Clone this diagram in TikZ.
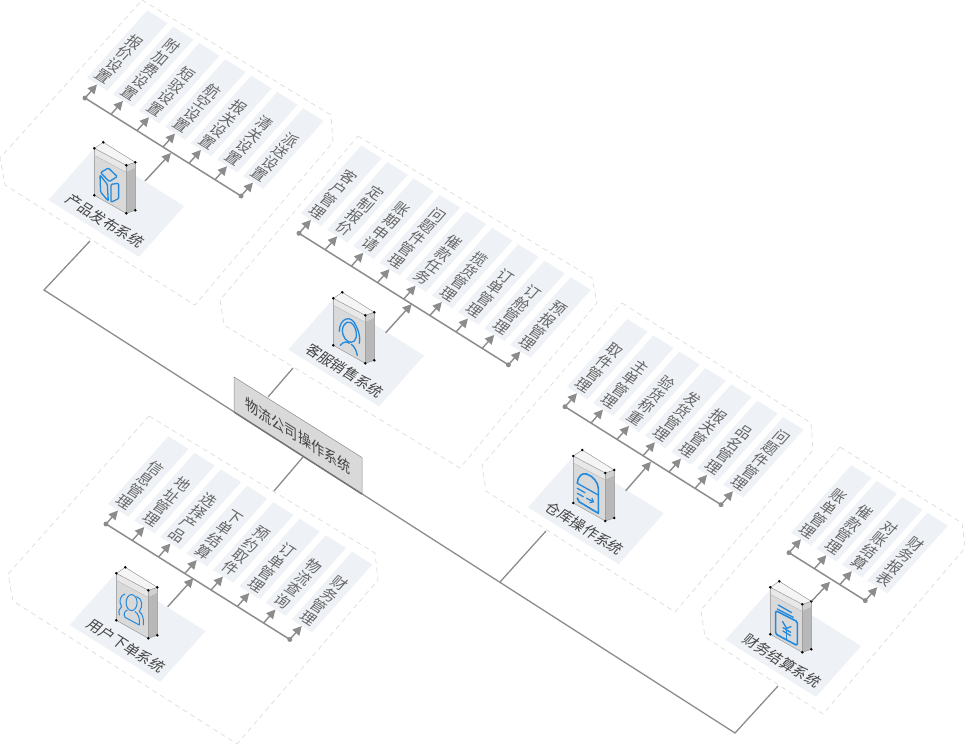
\documentclass[tikz,border=0pt]{standalone}
\usepackage{fontspec}
\usepackage{xcolor}
\usetikzlibrary{arrows.meta}
\newfontfamily\cjk{Noto Sans CJK SC}
\definecolor{paneledge}{HTML}{DCDCDC}
\definecolor{panelfill}{HTML}{EEF1F5}
\definecolor{linegrey}{HTML}{8C8C8C}
\definecolor{textgrey}{HTML}{666666}
\definecolor{titlegrey}{HTML}{444444}
\definecolor{iconblue}{HTML}{2389DC}
\tikzset{
  plan at/.style={cm={.847,-.532,.665,.747,(#1)},x=1pt,y=1pt},
  wall at/.style={cm={.847,-.532,0,1,(#1)},x=1pt,y=1pt},
  paneledgeline/.style={draw=paneledge,line width=.7pt,dash pattern=on 5pt off 4pt},
  itembox/.style={fill=panelfill,transform shape,minimum width=24pt,minimum height=90.7pt,inner sep=0pt,anchor=south},
  itemtext/.style={transform shape,text=textgrey,inner sep=0pt,anchor=south,align=center,font=\cjk\fontsize{15}{15.5}\selectfont},
  basebox/.style={fill=panelfill,transform shape,minimum width=107pt,minimum height=68pt,inner sep=0pt,anchor=south west},
  titletext/.style={transform shape,text=titlegrey,inner sep=0pt,font=\cjk\fontsize{14.6}{18}\selectfont},
  busline/.style={draw=linegrey,line width=1.5pt},
  stemarrow/.style={draw=linegrey,fill=linegrey,line width=1.4pt,-{Triangle[length=9pt,width=9pt]}},
  busdot/.style={circle,fill=linegrey,minimum size=5pt,inner sep=0pt},
  trunkline/.style={draw=linegrey,line width=1.3pt},
  iconline/.style={draw=iconblue,line width=1.3pt,line cap=round,line join=round}
}
\newcommand{\itemrow}[5]{%
  \begin{scope}[plan at={#2}]
    \node[busdot] (#1-s) at (0,0) {};
    \pgfmathsetmacro\lastu{(#4-1)*#3}
    \node[busdot] (#1-e) at (\lastu,0) {};
    \draw[busline] (#1-s.center) -- (#1-e.center);
    \foreach \txt [count=\k] in {#5} {
      \pgfmathsetmacro\thisu{(\k-1)*#3}
      \coordinate (#1-r\k) at (\thisu,0);
      \node[itembox] (#1-b\k) at (\thisu,18) {};
      \node[itemtext] (#1-t\k) at (\thisu,22) {\txt};
      \draw[stemarrow] (#1-r\k) -- (#1-b\k.south);
    }
  \end{scope}}
\newcommand{\sysbase}[3]{%
  \begin{scope}[plan at={#2}]
    \node[basebox] (#1-base) at (0,0) {};
    \node[titletext] (#1-title) at (57.3,12.7) {#3};
  \end{scope}}
\newcommand{\cubebody}{%
  \fill[white!96!black] (0,0) -- (9,-6) -- (41,14) -- (32,17) -- cycle;
  \fill[black!15] (0,0) -- (32,17) -- (32,65) -- (0,47) -- cycle;
  \fill[black!9] (0,0) -- (32,17) -- (32,24) -- (0,7) -- cycle;
  \fill[black!28] (32,17) -- (41,14) -- (41,62) -- (32,65) -- cycle;
  \fill[black!18] (32,17) -- (41,14) -- (41,20) -- (32,24) -- cycle;
  \draw[linegrey,line width=.4pt] (0,0) -- (9,-6) -- (41,14) -- (41,62) -- (32,65) -- (0,47) -- cycle;
  \draw[linegrey,line width=.4pt] (0,0) -- (32,17) -- (41,14) (32,17) -- (32,65);
  \draw[linegrey!70,line width=.3pt] (0,7) -- (32,24) -- (41,20);
  \foreach \dx/\dy in {0/0,9/-6,32/17,41/14,0/47,32/65,41/62}
    \fill[black] (\dx,\dy) circle (1.4);
}
\begin{document}
\begin{tikzpicture}[x=1pt,y=-1pt]
    \useasboundingbox (0,0) rectangle (965,745);
    \draw[paneledgeline] (142,0) -- (331,115) -- (333,142) -- (195,305) -- (5,185) -- (0,158) -- cycle;
    \draw[paneledgeline] (358,136) -- (592,278) -- (597,303) -- (460,468) -- (224,325) -- (220,300) -- cycle;
    \draw[paneledgeline] (622,303) -- (811,423) -- (813,450) -- (675,612) -- (486,491) -- (482,465) -- cycle;
    \draw[paneledgeline] (840,447) -- (962,523) -- (965,548) -- (823,714) -- (705,637) -- (701,610) -- cycle;
    \draw[paneledgeline] (149,416) -- (375,553) -- (378,580) -- (237,744) -- (13,601) -- (8,574) -- cycle;

    \coordinate (trunkL) at (44,290);
    \coordinate (trunkR) at (735,733);
    \coordinate (panelA) at (90,241);
    \coordinate (panelD) at (778,686);
    \coordinate (plateT) at (268,397);
    \coordinate (plateB) at (303,457);
    \coordinate (panelB) at (293,368);
    \coordinate (panelE) at (274,491);
    \coordinate (panelC) at (546,531);
    \coordinate (trunkC) at (500,582);
    \draw[trunkline] (panelA) -- (trunkL) -- (trunkR) -- (panelD);
    \draw[trunkline] (plateT) -- (panelB);
    \draw[trunkline] (plateB) -- (panelE);
    \draw[trunkline] (trunkC) -- (panelC);

    \coordinate (plateNW) at (234,377);
    \coordinate (plateNE) at (362,457.5);
    \coordinate (plateSE) at (362,494);
    \coordinate (plateSW) at (234,412);
    \fill[black!15] (plateNW) -- (plateNE) -- (plateSE) -- (plateSW) -- cycle;
    \draw[linegrey,line width=.5pt] (plateSW) -- (plateNW) -- (plateNE) -- (plateSE);
    \draw[black!55,line width=1.5pt] (plateSW) -- (plateSE);
    \begin{scope}[wall at={298,436}]
      \node[transform shape,text=titlegrey,inner sep=0pt,font=\cjk\fontsize{15.5}{18}\selectfont] (platename) at (0,0) {物流公司操作系统};
    \end{scope}

    \sysbase{prod}{48,200}{产品发布系统}
    \sysbase{serv}{288,349.5}{客服销售系统}
    \sysbase{stor}{527.7,507.3}{仓库操作系统}
    \sysbase{fina}{725,640}{财务结算系统}
    \sysbase{user}{69.3,625}{用户下单系统}

    \itemrow{prod}{85,98}{30.7}{7}{报\\价\\设\\置,附\\加\\费\\设\\置,短\\驳\\设\\置,航\\空\\设\\置,报\\关\\设\\置,清\\关\\设\\置,派\\送\\设\\置}
    \itemrow{serv}{299,233.3}{30.9}{9}{客\\户\\管\\理,定\\制\\报\\价,账\\期\\申\\请,问\\题\\件\\管\\理,催\\款\\任\\务,揽\\货\\管\\理,订\\单\\管\\理,订\\舱\\管\\理,预\\报\\管\\理}
    \itemrow{stor}{565,406.7}{30.7}{7}{取\\件\\管\\理,主\\单\\管\\理,验\\货\\称\\重,发\\货\\管\\理,报\\关\\管\\理,品\\名\\管\\理,问\\题\\件\\管\\理}
    \itemrow{fina}{789,552.7}{30}{4}{账\\单\\管\\理,催\\款\\管\\理,对\\账\\结\\算,财\\务\\报\\表}
    \itemrow{user}{106,524}{31}{8}{信\\息\\管\\理,地\\址\\管\\理,选\\择\\产\\品,下\\单\\结\\算,预\\约\\取\\件,订\\单\\管\\理,物\\流\\查\\询,财\\务\\管\\理}

    \begin{scope}[shift={(94.3,148.3)}]
      \cubebody
      \draw[iconline,rounded corners=1pt] (6.3,24.3) -- (14,19.7) -- (23,28.3) -- (15,33.3) -- cycle;
      \draw[iconline,rounded corners=1pt] (5.7,26.7) -- (13,36) -- (14,52.7) -- (6.3,43.7) -- cycle;
      \draw[iconline,rounded corners=1pt] (16.7,36) -- (24.3,35) -- (24.3,50.3) -- (16.7,54) -- cycle;
    \end{scope}
    \begin{scope}[shift={(333.3,298.3)}]
      \cubebody
      \draw[iconline] (6,33) .. controls (6,20) and (18,15) .. (23,28) .. controls (26,34) and (27,40) .. (26,45);
      \draw[iconline] (9,32) .. controls (10,24) and (16,20) .. (21,28) .. controls (25,36) and (23,44) .. (18,44) .. controls (13,44) and (9,38) .. (9,32);
      \draw[iconline] (7,47) .. controls (10,43) and (14,43) .. (16,45);
      \draw[iconline] (18,46) .. controls (21,48) and (23,52) .. (24,57);
    \end{scope}
    \begin{scope}[shift={(573.3,456)}]
      \cubebody
      \draw[iconline,line width=1.6pt] (4,27.3) .. controls (5,19) and (9,17) .. (13.3,18) .. controls (20,20) and (25,27) .. (25,32.3) -- (25,57.3) -- (5.7,45.7) -- (4,42);
      \draw[iconline] (4,27.3) -- (25,39);
      \draw[iconline] (4,32.3) -- (11.7,36.7);
      \draw[iconline] (4,37.3) -- (10,40.7);
      \draw[iconline,-{Straight Barb[length=3pt,width=5pt]}] (13.3,42.3) -- (21,46.2);
    \end{scope}
    \begin{scope}[shift={(770.3,587.3)}]
      \cubebody
      \draw[iconline,line width=1.6pt,rounded corners=1.5pt] (5.3,23.3) -- (27,34.3) -- (27,58.3) -- (5.3,46.7) -- cycle;
      \draw[iconline] (8,17.7) -- (21.3,25.3);
      \draw[iconline] (7,21.7) -- (23,30);
      \draw[iconline] (12.3,34.3) -- (16.3,41) -- (20.7,39.3);
      \draw[iconline] (16.3,41) -- (16.3,52.3);
      \draw[iconline] (12.7,40.3) -- (20.3,45);
      \draw[iconline] (12.7,43.7) -- (20.3,48.3);
    \end{scope}
    \begin{scope}[shift={(116.3,573.3)}]
      \cubebody
      \draw[iconline,line width=1pt] (15.3,29.3) ellipse [x radius=5.5,y radius=8];
      \draw[iconline,line width=1pt] (11,36.7) .. controls (8,38) and (7,41) .. (8.7,44) -- (23,51.7) .. controls (24,46) and (22,40) .. (18.7,38.3);
      \draw[iconline,line width=1pt] (8.7,20.7) .. controls (4,22) and (2,28) .. (5.3,33.3) .. controls (3,35) and (2,38) .. (3,41.7);
      \draw[iconline,line width=1pt] (20.3,23.3) .. controls (26,25) and (27,33) .. (23,38.3) .. controls (26,40) and (28,46) .. (27,51.7);
    \end{scope}

    \coordinate (prodcube) at (145,181);
    \coordinate (prodbus) at (171,153);
    \coordinate (servcube) at (385.7,332.7);
    \coordinate (servbus) at (411.7,304);
    \coordinate (storcube) at (625.7,490.7);
    \coordinate (storbus) at (651,461.7);
    \coordinate (finacube) at (811.7,601);
    \coordinate (finabus) at (830,581.7);
    \coordinate (usercube) at (167.7,606.7);
    \coordinate (userbus) at (193.3,578.3);
    \draw[stemarrow] (prodcube) -- (prodbus);
    \draw[stemarrow] (servcube) -- (servbus);
    \draw[stemarrow] (storcube) -- (storbus);
    \draw[stemarrow] (finacube) -- (finabus);
    \draw[stemarrow] (usercube) -- (userbus);
\end{tikzpicture}
\end{document}
